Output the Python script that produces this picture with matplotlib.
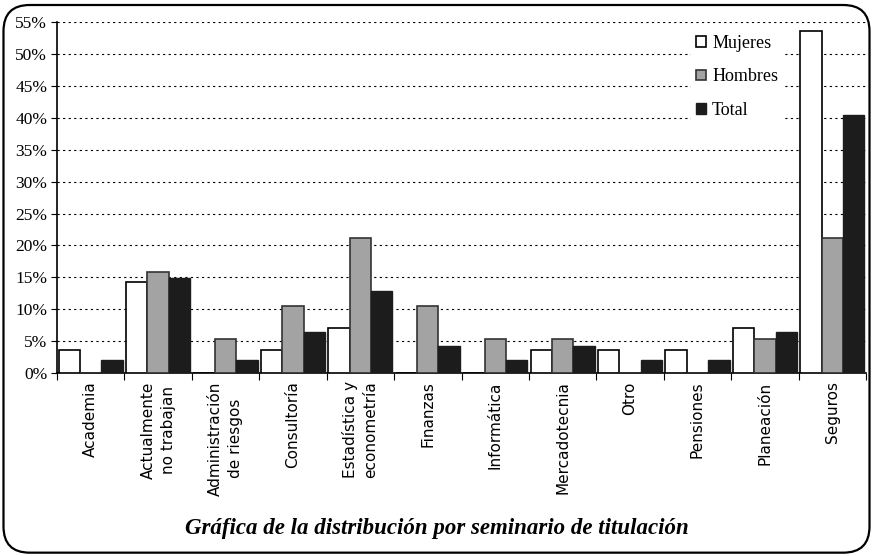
import numpy as np
import matplotlib.pyplot as plt
from matplotlib.patches import FancyBboxPatch
from matplotlib.ticker import PercentFormatter

categorias = [
    'Academia', 'Actualmente\nno trabajan', 'Administración\nde riesgos',
    'Consultoría', 'Estadística y\neconometría', 'Finanzas', 'Informática',
    'Mercadotecnia', 'Otro', 'Pensiones', 'Planeación', 'Seguros'
]
mujeres = [3.6, 14.3, 0.0, 3.6, 7.1, 0.0, 0.0, 3.6, 3.6, 3.6, 7.1, 53.6]
hombres = [0.0, 15.8, 5.3, 10.5, 21.1, 10.5, 5.3, 5.3, 0.0, 0.0, 5.3, 21.1]
total = [2.1, 14.9, 2.1, 6.4, 12.8, 4.3, 2.1, 4.3, 2.1, 2.1, 6.4, 40.4]

fig = plt.figure(figsize=(8.73, 5.56), dpi=100)
ax = fig.add_axes([0.0653, 0.329, 0.9267, 0.631])

# rounded frame around the whole chart
fig.patches.append(FancyBboxPatch((0.004, 0.006), 0.992, 0.985,
                                  boxstyle='round,pad=0,rounding_size=0.03',
                                  transform=fig.transFigure, fill=False,
                                  edgecolor='black', linewidth=1.6,
                                  mutation_aspect=873 / 556))

x = np.arange(len(categorias))
w = 0.317
ax.bar(x - w, mujeres, w, color='white', edgecolor='black', linewidth=1.2,
       label='Mujeres', zorder=3)
ax.bar(x, hombres, w, color='#a3a3a3', edgecolor='#333333', linewidth=1.2,
       label='Hombres', zorder=3)
ax.bar(x + w, total, w, color='#1c1c1c', edgecolor='#1c1c1c', linewidth=1.0,
       label='Total', zorder=3)

ax.set_xlim(-0.5, len(categorias) - 0.5)
ax.set_ylim(0, 55)
ax.set_yticks(np.arange(0, 56, 5))
ax.yaxis.set_major_formatter(PercentFormatter(decimals=0))
ax.grid(axis='y', color='black', linestyle=(0, (2, 3)), linewidth=0.8, zorder=0)

ax.set_xticks(np.arange(len(categorias) + 1) - 0.5)
ax.set_xticklabels([])
ax.set_xticks(x, minor=True)
ax.set_xticklabels(categorias, minor=True, rotation=90, va='top', ha='center',
                   fontsize=11, family='DejaVu Sans', linespacing=1.45)
ax.tick_params(axis='x', which='minor', length=0, pad=6)
ax.tick_params(axis='x', which='major', length=5, direction='out')
ax.tick_params(axis='y', length=4, direction='out', labelsize=12.5, pad=3)
for lab in ax.get_yticklabels():
    lab.set_family('Liberation Serif')

for s in ['top', 'right']:
    ax.spines[s].set_visible(False)
ax.spines['left'].set_linewidth(1.2)
ax.spines['bottom'].set_linewidth(1.2)

leg = ax.legend(loc='upper left', bbox_to_anchor=(0.792, 0.945),
                bbox_transform=fig.transFigure,
                prop={'family': 'Liberation Serif', 'size': 13},
                handlelength=0.55, handleheight=0.55, handletextpad=0.35,
                labelspacing=0.9, borderpad=0.25, borderaxespad=0,
                frameon=True, fancybox=False)
leg.get_frame().set_facecolor('white')
leg.get_frame().set_edgecolor('none')
leg.get_frame().set_alpha(1)
leg.set_zorder(5)

fig.text(0.5, 0.05, 'Gráfica de la distribución por seminario de titulación',
         ha='center', va='center', fontsize=16.5, style='italic', weight='bold',
         family='Liberation Serif')

fig.savefig('out.png', dpi=100)
